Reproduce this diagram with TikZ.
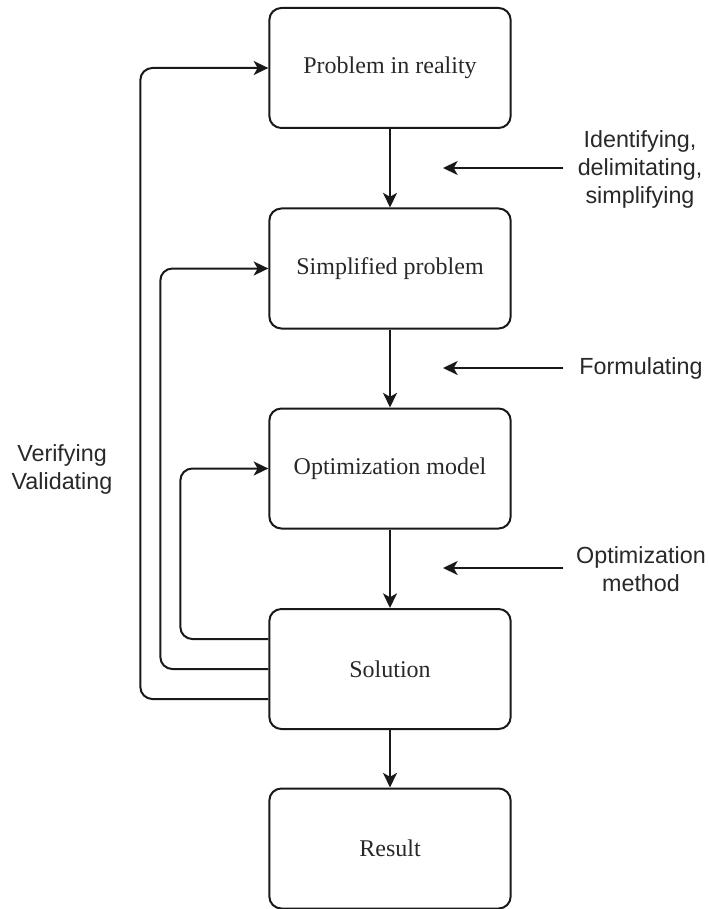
\documentclass[tikz,border=0pt]{standalone}
\usepackage{fontspec}
\setmainfont{Liberation Serif}
\setsansfont{Liberation Sans}
\usetikzlibrary{arrows.meta}
\definecolor{inkLine}{RGB}{25,25,25}
\definecolor{inkText}{RGB}{40,40,40}

\tikzset{
  stagebox/.style={draw=inkLine,line width=1.5pt,rounded corners=9pt,
    minimum width=181pt,minimum height=90pt,inner sep=0pt,
    text=inkText,font=\fontsize{18}{21.6}\selectfont},
  sidelabel/.style={align=center,text=inkText,inner sep=0pt,
    font=\sffamily\fontsize{17.5}{21}\selectfont},
  flow/.style={draw=inkLine,line width=1.5pt,-{Stealth[length=11pt,width=10.5pt,inset=3pt]}},
  loop/.style={flow,rounded corners=9pt}
}

\begin{document}
\begin{tikzpicture}[x=0.75pt,y=0.75pt,line join=round]

% fixed canvas, same proportions as 708x909
\path[use as bounding box] (0,0) rectangle (708,-909);

% main chain of stages
\node[stagebox] (reality) at (390,-68) {Problem in reality};
\node[stagebox] (simple) at (390,-268.5) {Simplified problem};
\node[stagebox] (model) at (390,-468.5) {Optimization model};
\node[stagebox] (solution) at (390,-669) {Solution};
\node[stagebox] (result) at (390,-848.5) {Result};

\draw[flow] (reality) -- (simple);
\draw[flow] (simple) -- (model);
\draw[flow] (model) -- (solution);
\draw[flow] (solution) -- (result);

% activities on the right
\node[sidelabel] (identify) at (640,-169) {Identifying,\\delimitating,\\simplifying};
\node[sidelabel] (formulate) at (641,-368) {Formulating};
\node[sidelabel] (method) at (641,-569) {Optimization\\method};

\coordinate (identifyFrom) at (563,-168);
\coordinate (identifyTo) at (443,-168);
\coordinate (formulateFrom) at (563,-368);
\coordinate (formulateTo) at (443,-368);
\coordinate (methodFrom) at (563,-568);
\coordinate (methodTo) at (443,-568);

\draw[flow] (identifyFrom) -- (identifyTo);
\draw[flow] (formulateFrom) -- (formulateTo);
\draw[flow] (methodFrom) -- (methodTo);

% feedback loops on the left
\node[sidelabel] (verify) at (62,-469) {Verifying\\Validating};

\draw[loop] ([yshift=-22.5pt]solution.west) -- ++(-128,0) |- (reality.west);
\draw[loop] (solution.west) -- ++(-108,0) |- (simple.west);
\draw[loop] ([yshift=22.5pt]solution.west) -- ++(-88,0) |- (model.west);

\end{tikzpicture}
\end{document}
